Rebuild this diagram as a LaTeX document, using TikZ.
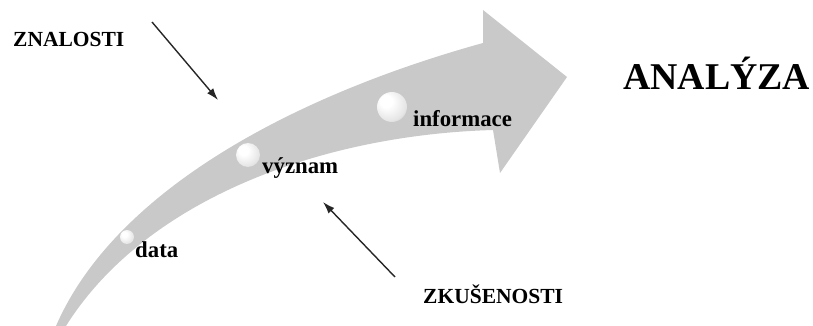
\documentclass[tikz,border=0pt]{standalone}
\usepackage{fontspec}
\setmainfont{Liberation Serif}
\usetikzlibrary{arrows.meta}
% pearl-like sphere: white highlight top left, grey rim
\pgfdeclareradialshading{pearl}{\pgfpoint{-12bp}{12bp}}{%
  color(0bp)=(white); color(10bp)=(white); color(28bp)=(black!10);
  color(40bp)=(black!30); color(50bp)=(black!45)}
\begin{document}
\begin{tikzpicture}[x=1pt,y=-1pt,
  tag/.style={font=\fontsize{21.5}{24}\selectfont\bfseries, inner sep=0pt, anchor=base west},
  stage/.style={tag, font=\fontsize{22.8}{25}\selectfont\bfseries},
  sphere/.style={circle, shading=pearl, draw=none, inner sep=0pt},
  hint/.style={line width=1.4pt, black!85, -{Latex[length=12pt,width=8pt]}}]
\useasboundingbox (0,0) rectangle (813,326);

% curved growth arrow
\fill[black!21] (56,326) .. controls (115,190) and (295,95) .. (483,43)
  -- (483,10) -- (567,77) -- (500,173) -- (493,130)
  .. controls (320,135) and (145,200) .. (66,326) -- cycle;

% stages along the arrow
\node[sphere, minimum size=14pt] (s1) at (127,237) {};
\node[sphere, minimum size=24pt] (s2) at (248,155) {};
\node[sphere, minimum size=30pt] (s3) at (392,107) {};
\node[stage] (data) at (135,257) {data};
\node[stage] (vyznam) at (262,173) {význam};
\node[stage] (informace) at (413,127) {informace};

% outer labels
\node[tag] (znalosti) at (13,47) {ZNALOSTI};
\node[tag] (zkusenosti) at (423,303) {ZKUŠENOSTI};
\node[font=\fontsize{37.8}{40}\selectfont\bfseries, inner sep=0pt, anchor=base west] (analyza) at (623,90) {ANALÝZA};

% influence arrows
\coordinate (zA) at (152,22);
\coordinate (zB) at (218,100);
\draw[hint] (zA) -- (zB);
\coordinate (kA) at (395,277);
\coordinate (kB) at (323,202);
\draw[hint] (kA) -- (kB);
\end{tikzpicture}
\end{document}
